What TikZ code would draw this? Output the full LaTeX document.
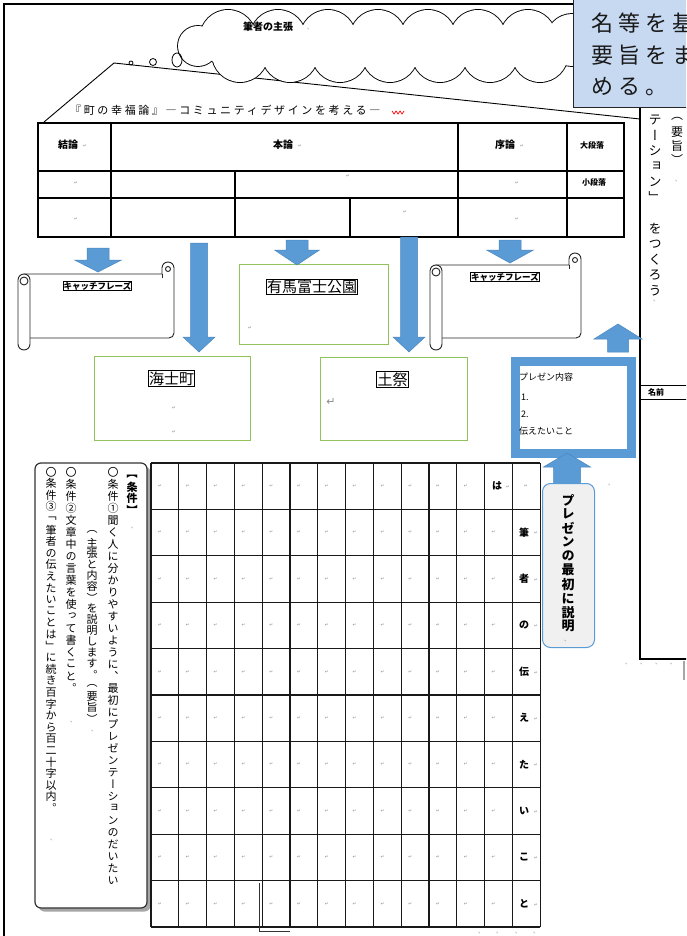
\documentclass[tikz,border=0pt]{standalone}
\usepackage{fontspec}
\setmainfont{Noto Sans CJK JP}
\newfontfamily\jpv[RawFeature={+vert}]{Noto Sans CJK JP}
\newfontfamily\jpls[LetterSpace=24]{Noto Sans CJK JP}
\newfontfamily\jpcall[LetterSpace=23]{Noto Sans CJK JP}
\newfontfamily\dvs{DejaVu Sans}
\definecolor{ablue}{HTML}{5B9BD5}
\definecolor{abluedk}{HTML}{4A86C0}
\definecolor{gbox}{HTML}{92C25A}
\definecolor{callfill}{HTML}{C6D9F1}
\definecolor{mgray}{HTML}{8C8C8C}

\makeatletter
\newlength\tatep
\newcommand\tate[2]{\setlength\tatep{#1}\vbox{\offinterlineskip\tate@#2\@nil}}
\def\tate@#1{\ifx\@nil#1\else\tate@box{#1}\expandafter\tate@\fi}
\def\tate@box#1{\hbox to 1em{\hss\vbox to \tatep{\vss\hbox{#1}\vss}\hss}}
\makeatother

\tikzset{
  frameline/.style={line width=1.4pt, draw=black},
  tabline/.style={line width=1.1pt, draw=black},
  gridline/.style={line width=1.1pt, draw=black!90},
  blockarr/.style={fill=ablue, draw=abluedk, line width=0.5pt},
  greenbox/.style={draw=gbox, line width=1.3pt, fill=white, inner sep=0, anchor=north west},
  namebox/.style={draw=black, line width=0.9pt, fill=white, inner sep=0.8pt, font=\fontsize{15}{16}\selectfont},
  catchbox/.style={draw=black, line width=0.8pt, fill=white, inner sep=0.6pt, font=\bfseries\fontsize{8.5}{9}\selectfont},
  scrl/.style={draw=black!85, line width=0.9pt, fill=white},
  retmark/.style={text=mgray, font=\dvs\fontsize{4.5}{5}\selectfont, inner sep=0},
  tick/.style={text=mgray, font=\fontsize{6}{6}\selectfont, inner sep=0},
  vtext/.style={anchor=north, inner sep=0, font=\jpv\fontsize{11}{11}\selectfont},
  hdr/.style={font=\bfseries\fontsize{10}{10}\selectfont, inner sep=0},
  smallhdr/.style={font=\bfseries\fontsize{8}{8}\selectfont, inner sep=0},
  gridch/.style={font=\bfseries\fontsize{10}{10}\selectfont, inner sep=0},
  boxtxt/.style={anchor=west, inner sep=0, font=\fontsize{9}{9}\selectfont},
  calltxt/.style={anchor=west, inner sep=0, font=\jpcall\fontsize{22}{22}\selectfont, text=black!90},
}

\newcommand\blockarrow[6]{%
  \draw[blockarr] ({#1-#5/2},#2) -- ({#1+#5/2},#2) -- ({#1+#5/2},#3) -- ({#1+#6/2},#3) -- (#1,#4) -- ({#1-#6/2},#3) -- ({#1-#5/2},#3) -- cycle;}

\newcommand\scrollshape[4]{%
  \draw[scrl] ({#1+6},{#2+12}) -- ({#3-12},{#2+12}) -- ({#3-12},{#2+6}) arc[start angle=180,end angle=360,radius=6] -- ({#3},{#4-17}) arc[start angle=0,end angle=90,radius=5] -- ({#1+6},{#4-12}) -- cycle;
  \draw[scrl] ({#3-6},{#2+7}) circle[radius=2.5];
  \draw[scrl] ({#3-12},{#2+12}) -- ({#3-12},{#2+16});
  \draw[scrl,rounded corners=6pt] (#1,{#2+12}) rectangle ({#1+12},#4);
  \draw[scrl] ({#1+6},{#2+19}) circle[radius=4];
}

\begin{document}
\begin{tikzpicture}[x=1pt,y=-1pt]
\useasboundingbox (0,0) rectangle (686,936);
\clip (0,0) rectangle (686,936);
\fill[white] (0,0) rectangle (686,936);

% page frame
\draw[frameline] (4,936) -- (4,4) -- (580,4);

% roof
\draw[line width=0.9pt] (44,122) -- (114,63) -- (640,119);

% cloud (union of puffs)
\def\puffs{198/46/20, 228/38/28, 278/38/28, 328/38/28, 378/38/28, 428/38/28, 478/38/28, 528/38/28, 572/40/26, 240/54/28, 290/54/28, 340/54/28, 390/54/28, 440/54/28, 490/54/28, 540/54/28, 598/46/20}
\foreach \cx/\cy/\cr in \puffs \draw[line width=1.8pt] (\cx,\cy) circle[radius=\cr];
\foreach \cx/\cy/\cr in \puffs \fill[white] (\cx,\cy) circle[radius=\cr];
\node[font=\bfseries\fontsize{10}{10}\selectfont, inner sep=0] (claim) at (268,27) {筆者の主張};
\node[tick] (claimm) at (310,29) {、};
\draw[line width=0.8pt] (131,63) circle[radius=2];
\draw[line width=0.8pt] (153,62) circle[radius=3.5];
\draw[line width=0.8pt] (177,60) ellipse[x radius=5, y radius=7];

% title
\node[anchor=west, inner sep=0, font=\jpls\fontsize{11}{11}\selectfont] (title) at (70,110) {『町の幸福論』―コミュニティデザインを考える―};
\draw[red, line width=0.7pt] (392,111) -- (394,114) -- (396,111) -- (398,114) -- (400,111) -- (402,114) -- (404,111);

% table
\draw[tabline] (38,123) rectangle (624,237);
\draw[line width=2.6pt] (37,123) -- (625,123);
\draw[tabline] (38,171) -- (624,171);
\draw[tabline] (38,198) -- (624,198);
\foreach \xx in {111,458,567} \draw[tabline] (\xx,123) -- (\xx,237);
\draw[tabline] (235,171) -- (235,237);
\draw[tabline] (350,198) -- (350,237);
\node[hdr] (ketsu) at (68,145) {結論};
\node[hdr] (hon) at (283,145) {本論};
\node[hdr] (jo) at (505,145) {序論};
\node[smallhdr] (dai) at (592,145) {大段落};
\node[smallhdr] (sho) at (594,182) {小段落};
\node[retmark] (hm1) at (85,146) {↵};
\node[retmark] (hm2) at (300,146) {↵};
\node[retmark] (hm3) at (522,146) {↵};
\node[retmark] (tm1) at (76,183) {↵};
\node[retmark] (tm2) at (348,176) {↵};
\node[retmark] (tm3) at (517,183) {↵};
\node[retmark] (tm4) at (76,219) {↵};
\node[retmark] (tm5) at (405,212) {↵};
\node[retmark] (tm6) at (517,219) {↵};

% scrolls
\scrollshape{18}{262}{174}{350}
\scrollshape{430}{253}{581}{350}
\node[catchbox] (catchl) at (97.5,286) {キャッチフレーズ};
\node[catchbox] (catchr) at (505,277) {キャッチフレーズ};

% green boxes
\node[greenbox, minimum width=149, minimum height=80] (arima) at (239,264) {};
\node[greenbox, minimum width=156, minimum height=84] (ama) at (94,356) {};
\node[greenbox, minimum width=147, minimum height=83] (tsuchi) at (320,357) {};
\node[namebox] (arimalbl) at (312,287) {有馬富士公園};
\node[namebox] (amalbl) at (171.5,378.5) {海士町};
\node[namebox] (tsuchilbl) at (392.5,379.5) {土祭};
\node[retmark] (am1) at (250,328) {↵};
\node[retmark] (am2) at (174,408) {↵};
\node[retmark] (am3) at (174,432) {↵};
\node[text=mgray, font=\dvs\fontsize{11}{11}\selectfont, inner sep=0] (tsm) at (331,402) {↵};

% block arrows
\blockarrow{98}{248}{260}{272}{22}{47}
\blockarrow{199}{243}{337}{352}{17}{32}
\blockarrow{297}{240}{250}{265}{22}{45}
\blockarrow{409}{237}{337}{352}{17}{32}
\blockarrow{510}{240}{250}{263}{22}{47}

% right column
\draw[line width=1.2pt] (640,100) -- (640,659) -- (690,659);
\draw[line width=1pt] (640,385) -- (690,385);
\draw[line width=1pt] (640,399) -- (690,399);
\draw[black!35, line width=2pt] (684,661) -- (684,680);
\node[font=\bfseries\fontsize{8}{8}\selectfont, inner sep=0] (namae) at (656,392) {名前};
\node[vtext, font=\jpv\fontsize{13}{13}\selectfont] (colA) at (655,112) {\tate{15.5pt}{テーション」　をつくろう}};
\node[vtext, font=\jpv\fontsize{12}{12}\selectfont] (colB) at (677,112) {\tate{13.5pt}{（要旨）}};
\node[tick] (ca1) at (678,181) {、};
\node[tick] (ca2) at (656,301) {、};

% presentation box
\blockarrow{618}{352}{339}{324}{21}{48}
\node[draw=ablue, line width=9pt, fill=white, minimum width=116, minimum height=92, anchor=north west, inner sep=0] (present) at (510.5,356.5) {};
\node[boxtxt] (p1) at (519,377) {プレゼン内容};
\node[boxtxt] (p2) at (521,397) {1.};
\node[boxtxt] (p3) at (521,414) {2.};
\node[boxtxt] (p4) at (519,431) {伝えたいこと};

\blockarrow{567}{484}{467}{453}{27}{47}
\node[draw=ablue, fill=black!6, rounded corners=8pt, line width=1pt, minimum width=52, minimum height=164, anchor=north west, inner sep=0] (setsumei) at (542,483) {};
\node[vtext, font=\jpv\bfseries\fontsize{13}{13}\selectfont] (setsumeitxt) at (568,493) {\tate{14pt}{プレゼンの最初に説明}};
\node[tick] (sm) at (567,641) {、};

% condition box
\fill[black!35, rounded corners=6pt] (38.5,466.5) rectangle (150.5,911.5);
\draw[draw=black!80, line width=1.2pt, fill=white, rounded corners=6pt] (35,463) rectangle (147,908);
\node[vtext, font=\jpv\bfseries\fontsize{11}{11}\selectfont] (c1) at (132,471) {\tate{11pt}{【条件】}};
\node[vtext] (c2) at (113,466) {\tate{12pt}{〇条件①聞く人に分かりやすいように、最初にプレゼンテーションのだいたい}};
\node[vtext] (c3) at (92,526) {\tate{11pt}{（主張と内容）を説明します。（要旨）}};
\node[vtext] (c4) at (71,466) {\tate{12pt}{〇条件②文章中の言葉を使って書くこと。}};
\node[vtext] (c5) at (51,466) {\tate{11.6pt}{〇条件③「筆者の伝えたいことは」に続き百字から百二十字以内。}};
\node[tick] (c1m) at (134,528) {、};
\node[tick] (c3m) at (94,731) {、};
\node[tick] (c4m) at (73,722) {、};
\node[tick] (c5m) at (53,840) {、};

% writing grid
\foreach \c in {0,...,14} \draw[gridline] ({151+\c*27.8},463) -- ({151+\c*27.8},927);
\foreach \r in {0,...,10} \draw[gridline] (151,{463+\r*46.4}) -- (540,{463+\r*46.4});
\foreach \c in {0,...,11} \foreach \r in {0,...,9} \node[retmark] (g-\c-\r) at ({160+\c*27.8},{486+\r*46.4}) {↵};
\foreach \r in {1,...,9} \node[retmark] (g-12-\r) at ({160+12*27.8},{486+\r*46.4}) {↵};
\node[retmark] (g-13-0) at (526,486) {↵};
\node[gridch] (ha) at (497,486) {は};
\node[retmark] (ham) at (508,487) {↵};
\foreach \ch [count=\r] in {筆,者,の,伝,え,た,い,こ,と} {
  \node[gridch] (gc-\r) at (524,{486+\r*46.4}) {\ch};
  \node[retmark] (gcm-\r) at (536,{487+\r*46.4}) {↵};
}
\draw[line width=0.8pt, black!80] (259,883) -- (259,931) -- (290,931);

% tiny marks
\node[tick] (t1) at (611,485) {、};
\foreach \xx [count=\i] in {628,643,658,673} \node[tick] (tr-\i) at (\xx,664) {、};
\foreach \xx [count=\i] in {481,499,518,536} \node[tick] (tb-\i) at (\xx,933) {、};

% callout
\node[draw=black!85, line width=1.3pt, fill=callfill, minimum width=130, minimum height=113, anchor=north west, inner sep=0] (callout) at (573,-6) {};
\node[calltxt] (cl1) at (591,23) {名等を基};
\node[calltxt] (cl2) at (591,55) {要旨をま};
\node[calltxt] (cl3) at (591,87) {める。};
\end{tikzpicture}
\end{document}
